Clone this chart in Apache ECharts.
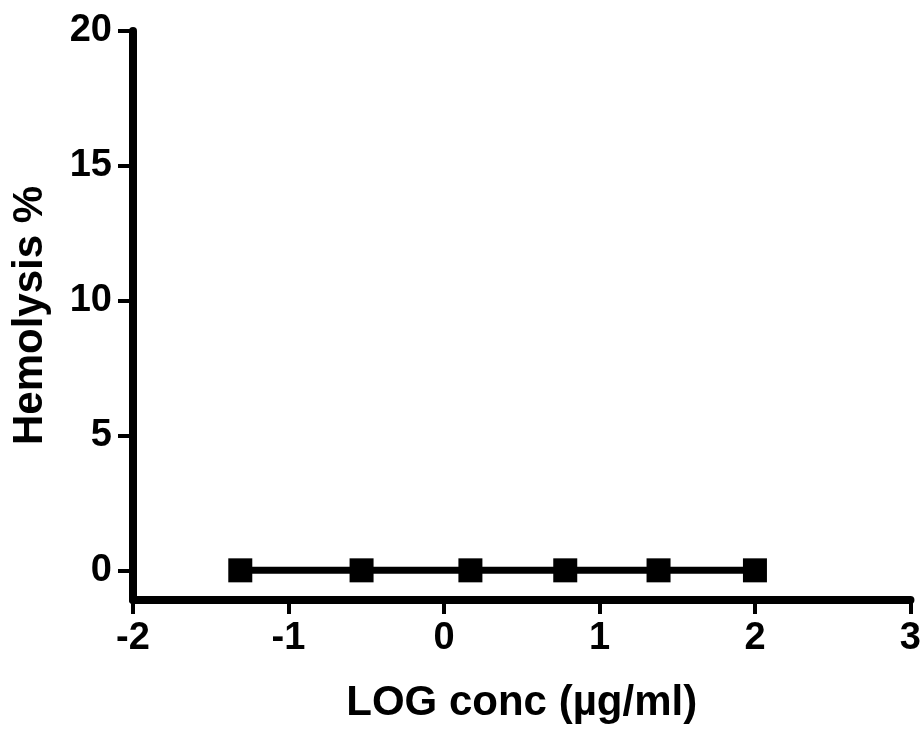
<!DOCTYPE html>
<html>
<head>
<meta charset="utf-8">
<script src="https://cdn.jsdelivr.net/npm/echarts@6/dist/echarts.min.js"></script>
<style>
  html, body { margin: 0; padding: 0; background: #fff; }
  #chart { width: 924px; height: 740px; }
</style>
</head>
<body>
<div id="chart"></div>
<script>
// log concentration (µg/ml) and hemolysis %
const logConc = [-1.31, -0.53, 0.17, 0.78, 1.38, 2.0];
const hemolysis = [0, 0, 0, 0, 0, 0];
const yTicks = [0, 5, 10, 15, 20];

const font = 'Liberation Sans, Arial, sans-serif';

const chart = echarts.init(document.getElementById('chart'));
chart.setOption({
  backgroundColor: '#fff',
  animation: false,
  grid: { left: 133, right: 11, top: 31, bottom: 140 },
  xAxis: {
    type: 'value',
    min: -2,
    max: 3,
    interval: 1,
    name: 'LOG conc (µg/ml)',
    nameLocation: 'middle',
    nameGap: 82,
    nameTextStyle: { fontFamily: font, fontWeight: 'bold', fontSize: 42, color: '#000' },
    axisLine: { show: true, onZero: false, lineStyle: { color: '#000', width: 8 } },
    axisTick: { show: true, length: 14, lineStyle: { color: '#000', width: 4 } },
    axisLabel: { margin: 20, fontFamily: font, fontWeight: 'bold', fontSize: 38, color: '#000' },
    splitLine: { show: false }
  },
  yAxis: {
    type: 'value',
    min: -1.1,
    max: 20,
    name: 'Hemolysis %',
    nameLocation: 'middle',
    nameGap: 82,
    nameTextStyle: { fontFamily: font, fontWeight: 'bold', fontSize: 42, color: '#000' },
    axisLine: { show: true, onZero: false, lineStyle: { color: '#000', width: 8 } },
    axisTick: { show: true, length: 15, customValues: yTicks, lineStyle: { color: '#000', width: 4 } },
    axisLabel: { margin: 21, customValues: yTicks, fontFamily: font, fontWeight: 'bold', fontSize: 38, color: '#000' },
    splitLine: { show: false }
  },
  series: [{
    type: 'line',
    data: logConc.map((x, i) => [x, hemolysis[i]]),
    symbol: 'rect',
    symbolSize: 24,
    lineStyle: { color: '#000', width: 7 },
    itemStyle: { color: '#000' }
  }]
});
</script>
</body>
</html>
